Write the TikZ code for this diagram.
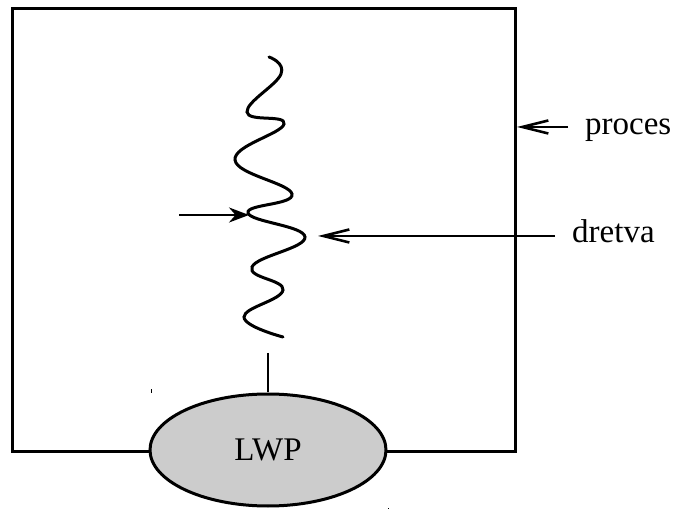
\documentclass[tikz,border=0pt]{standalone}
\usepackage{fontspec}
\setmainfont{Liberation Serif}
\usetikzlibrary{shapes.geometric,arrows.meta}
\begin{document}
\begin{tikzpicture}[x=1pt,y=-1pt,
  thick line/.style={line width=3pt},
  thin line/.style={line width=1.1pt},
  lbl/.style={font=\fontsize{33}{38}\selectfont, inner sep=0pt},
  chevron/.style={thin line, -{Straight Barb[length=26pt,width=13pt,line width=2.6pt]}},
  lwpshape/.style={ellipse, draw, thick line, fill=gray!40, minimum width=236pt, minimum height=112pt, inner sep=0pt, font=\fontsize{33}{38}\selectfont}]
\useasboundingbox (0,0) rectangle (675,510);
% process box
\draw[thick line, line join=miter] (12,9) rectangle (515,452);
% LWP ellipse
\node[lwpshape] (lwp) at (268,450) {LWP};
% link from thread to LWP
\coordinate (wbot) at (268,353);
\draw[thin line] (wbot) -- (lwp.north);
% thread (wavy line)
\draw[thick line, line cap=round] plot[smooth, tension=0.75] coordinates {
  (269,57) (281,74) (247,112) (284,124) (235,160) (292,194)
  (248,213) (305,237) (252,267) (283,290) (244,317) (283,337)};
% arrow into thread
\coordinate (a0) at (179,215);
\coordinate (a1) at (249,215);
\draw[line width=2.6pt, -{Stealth[length=20pt,width=15pt]}] (a0) -- (a1);
% proces label
\node[lbl, anchor=base west] (proces) at (585,135) {proces};
\coordinate (ps) at (568,127);
\coordinate (pt) at (517,127);
\draw[chevron] (ps) -- (pt);
% dretva label
\node[lbl, anchor=base west] (dretva) at (572,243) {dretva};
\coordinate (ds) at (555,236);
\coordinate (dt) at (318,236);
\draw[chevron] (ds) -- (dt);
% stray marks
\fill (150.5,389) rectangle (151.5,393);
\fill (388,508) rectangle (389,509);
\end{tikzpicture}
\end{document}
